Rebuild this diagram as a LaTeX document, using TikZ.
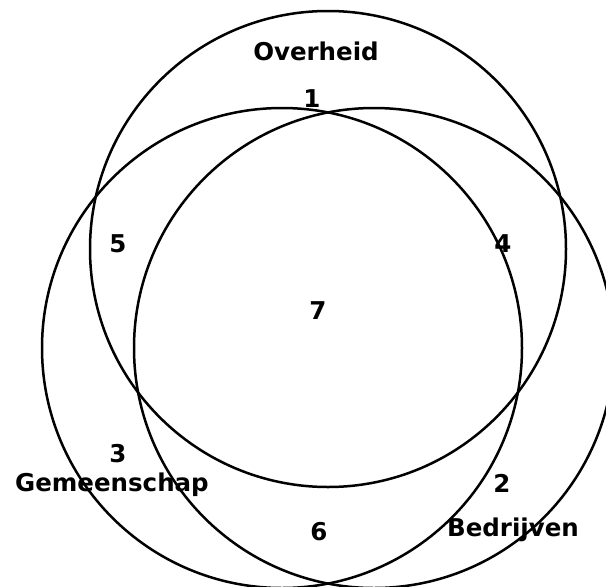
\documentclass[tikz,border=0pt]{standalone}
\usepackage{fontspec}
\setmainfont{DejaVu Sans}
\begin{document}
\begin{tikzpicture}[x=1pt,y=-1pt,
  ring/.style={draw=black,line width=2.5pt},
  lbl/.style={font=\fontsize{24.5}{28}\bfseries\selectfont,inner sep=0pt,anchor=base}]
\useasboundingbox (0,0) rectangle (606,587);
\begin{scope}
\clip (0,0) rectangle (606,587);
\coordinate (cO) at (328,249);
\coordinate (cG) at (282,348);
\coordinate (cB) at (374,348);
\draw[ring] (cO) circle[radius=238];
\draw[ring] (cG) circle[radius=240];
\draw[ring] (cB) circle[radius=240];
\end{scope}
\node[lbl] (overheid) at (316,60) {Overheid};
\node[lbl] (gemeenschap) at (112,491) {Gemeenschap};
\node[lbl] (bedrijven) at (513,536) {Bedrijven};
\node[lbl] (n1) at (312,107) {1};
\node[lbl] (n2) at (502,492) {2};
\node[lbl] (n3) at (118,462) {3};
\node[lbl] (n4) at (503,252) {4};
\node[lbl] (n5) at (118,252) {5};
\node[lbl] (n6) at (319,540) {6};
\node[lbl] (n7) at (318,319) {7};
\end{tikzpicture}
\end{document}
